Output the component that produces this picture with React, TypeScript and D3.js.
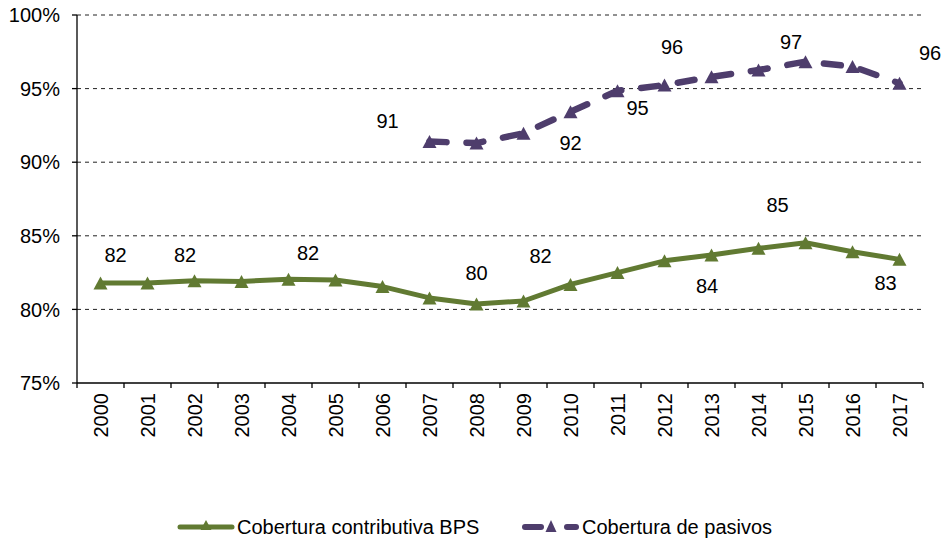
import React from "react";
import * as d3 from "d3";

const years = ["2000","2001","2002","2003","2004","2005","2006","2007","2008","2009","2010","2011","2012","2013","2014","2015","2016","2017"];
const bpsValues: (number | null)[] = [81.8,81.8,81.95,81.9,82.05,82.0,81.55,80.78,80.37,80.57,81.7,82.5,83.3,83.7,84.15,84.53,83.92,83.4];
const pasivosValues: (number | null)[] = [null,null,null,null,null,null,null,91.4,91.3,91.96,93.43,94.85,95.24,95.8,96.26,96.83,96.5,95.36];
const yTicks = [75, 80, 85, 90, 95, 100];

const bpsLabels = [
  { year: "2000", text: "82" }, { year: "2002", text: "82" }, { year: "2004", text: "82" },
  { year: "2008", text: "80" }, { year: "2010", text: "82" }, { year: "2013", text: "84" },
  { year: "2015", text: "85" }, { year: "2017", text: "83" },
];
const pasivosLabels = [
  { year: "2007", text: "91" }, { year: "2010", text: "92" }, { year: "2011", text: "95" },
  { year: "2012", text: "96" }, { year: "2015", text: "97" }, { year: "2017", text: "96" },
];
// label placement offsets (px) relative to their point
const bpsLabelOffsets = [[15, -28], [-9.5, -26], [19.5, -26], [0, -31], [-30, -29], [-4.5, 31], [-28, -38], [-14, 23]];
const pasivosLabelOffsets = [[-42, -21], [0, 31], [20, 17], [7.5, -38], [-14.5, -20], [30.5, -31]];

const GREEN = "#617A32";
const PURPLE = "#4E3D6C";
const FONT = "'Liberation Sans', Arial, sans-serif";
const FS = 20;

const M = { left: 77, right: 923, top: 15, bottom: 383 };

function tri(cx: number, cy: number, w = 14, h = 13) {
  return `M${cx - w / 2},${cy + h / 2} L${cx},${cy - h / 2} L${cx + w / 2},${cy + h / 2} Z`;
}

export default function App() {
  const x = d3.scaleBand<string>().domain(years).range([M.left, M.right]).padding(0);
  const y = d3.scaleLinear().domain([75, 100]).range([M.bottom, M.top]);
  const cx = (yr: string) => (x(yr) as number) + x.bandwidth() / 2;

  const line = d3
    .line<number | null>()
    .defined((d) => d != null)
    .x((_, i) => cx(years[i]))
    .y((d) => y(d as number));

  const bpsPts = years.map((yr, i) => ({ yr, v: bpsValues[i] })).filter((p) => p.v != null);
  const pasPts = years.map((yr, i) => ({ yr, v: pasivosValues[i] })).filter((p) => p.v != null);

  const valOf = (arr: (number | null)[], yr: string) => arr[years.indexOf(yr)] as number;

  return (
    <svg width={945} height={544} style={{ position: "absolute", left: 0, top: 0, background: "#fff", fontFamily: FONT }}>
      {yTicks.filter((t) => t !== 75).map((t) => (
        <line key={t} x1={M.left} x2={M.right} y1={y(t)} y2={y(t)} stroke="#222" strokeWidth={1} strokeDasharray="4,4" />
      ))}
      <line x1={M.left} x2={M.left} y1={M.top} y2={M.bottom} stroke="#000" strokeWidth={1.3} />
      {yTicks.map((t) => (
        <g key={t}>
          <line x1={M.left - 5} x2={M.left} y1={y(t)} y2={y(t)} stroke="#000" strokeWidth={1.3} />
          <text x={60} y={y(t)} dy="0.36em" textAnchor="end" fontSize={FS} fill="#000">{t}%</text>
        </g>
      ))}
      <line x1={M.left} x2={M.right} y1={M.bottom} y2={M.bottom} stroke="#000" strokeWidth={1.3} />
      {years.map((yr) => (
        <line key={"t" + yr} x1={x(yr) as number} x2={x(yr) as number} y1={M.bottom} y2={M.bottom + 5} stroke="#000" strokeWidth={1.3} />
      ))}
      <line x1={M.right} x2={M.right} y1={M.bottom} y2={M.bottom + 5} stroke="#000" strokeWidth={1.3} />
      {years.map((yr) => (
        <text key={"l" + yr} transform={`translate(${cx(yr)},${M.bottom + 10}) rotate(-90)`} dy="0.36em" textAnchor="end" fontSize={FS} fill="#000">{yr}</text>
      ))}
      <path d={line(bpsValues) || ""} fill="none" stroke={GREEN} strokeWidth={5} strokeLinejoin="round" />
      <path d={line(pasivosValues) || ""} fill="none" stroke={PURPLE} strokeWidth={6.5} strokeLinecap="round" strokeLinejoin="round" strokeDasharray="17,20" />
      {bpsPts.map((p) => (
        <path key={"gb" + p.yr} d={tri(cx(p.yr), y(p.v as number))} fill={GREEN} />
      ))}
      {pasPts.map((p) => (
        <path key={"pp" + p.yr} d={tri(cx(p.yr), y(p.v as number))} fill={PURPLE} />
      ))}
      {bpsLabels.map((l, i) => (
        <text key={"bl" + i} x={cx(l.year) + bpsLabelOffsets[i][0]} y={y(valOf(bpsValues, l.year)) + bpsLabelOffsets[i][1]} dy="0.36em" textAnchor="middle" fontSize={FS} fill="#000">{l.text}</text>
      ))}
      {pasivosLabels.map((l, i) => (
        <text key={"pl" + i} x={cx(l.year) + pasivosLabelOffsets[i][0]} y={y(valOf(pasivosValues, l.year)) + pasivosLabelOffsets[i][1]} dy="0.36em" textAnchor="middle" fontSize={FS} fill="#000">{l.text}</text>
      ))}
      <g>
        <line x1={180} x2={232} y1={527} y2={527} stroke={GREEN} strokeWidth={5} strokeLinecap="round" />
        <path d={tri(206, 525, 11, 10)} fill={GREEN} />
        <text x={237} y={527} dy="0.36em" fontSize={FS} fill="#000">Cobertura contributiva BPS</text>
        <line x1={525} x2={541} y1={527} y2={527} stroke={PURPLE} strokeWidth={6} strokeLinecap="round" />
        <path d={tri(551, 526, 11, 12)} fill={PURPLE} />
        <line x1={567} x2={576} y1={527} y2={527} stroke={PURPLE} strokeWidth={6} strokeLinecap="round" />
        <text x={582} y={527} dy="0.36em" fontSize={FS} fill="#000">Cobertura de pasivos</text>
      </g>
    </svg>
  );
}
